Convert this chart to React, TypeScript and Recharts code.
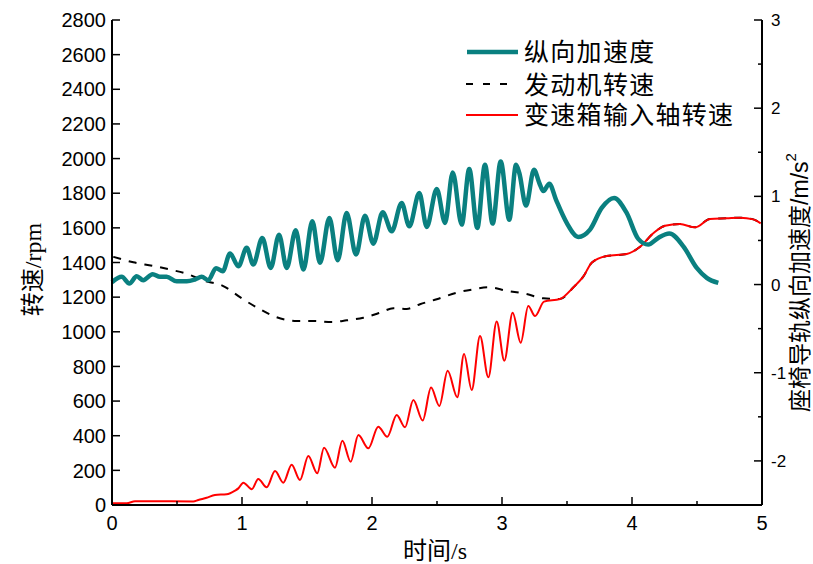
import React from 'react';
import { LineChart, Line, XAxis, YAxis } from 'recharts';

// 纵向加速度 (m/s^2) — right axis
const accT = [0, 0.075, 0.133, 0.19, 0.24, 0.313, 0.369, 0.42, 0.498, 0.575, 0.638, 0.69, 0.741, 0.8, 0.852, 0.908, 0.972, 1.036, 1.087, 1.156, 1.221, 1.285, 1.344, 1.413, 1.472, 1.541, 1.6, 1.672, 1.736, 1.805, 1.877, 1.946, 2.01, 2.082, 2.152, 2.228, 2.287, 2.364, 2.421, 2.498, 2.562, 2.621, 2.69, 2.748, 2.81, 2.869, 2.928, 2.99, 3.056, 3.108, 3.133, 3.185, 3.246, 3.287, 3.318, 3.364, 3.415, 3.498, 3.587, 3.677, 3.767, 3.862, 3.959, 4.048, 4.125, 4.202, 4.287, 4.395, 4.498, 4.575, 4.664];
const accV = [0.026, 0.087, 0.011, 0.094, 0.049, 0.117, 0.087, 0.087, 0.037, 0.037, 0.057, 0.087, 0.049, 0.185, 0.151, 0.351, 0.207, 0.416, 0.226, 0.529, 0.189, 0.566, 0.189, 0.615, 0.17, 0.717, 0.246, 0.755, 0.275, 0.812, 0.34, 0.781, 0.464, 0.819, 0.604, 0.925, 0.66, 1.038, 0.653, 1.084, 0.699, 1.272, 0.68, 1.31, 0.642, 1.359, 0.691, 1.396, 0.736, 1.359, 1.265, 0.895, 1.302, 1.152, 1.06, 1.144, 0.963, 0.699, 0.54, 0.623, 0.869, 0.982, 0.812, 0.518, 0.453, 0.529, 0.578, 0.434, 0.189, 0.076, 0.019];

// 发动机转速 (rpm) — left axis
const engT = [0.01, 0.164, 0.318, 0.459, 0.587, 0.69, 0.856, 0.998, 1.125, 1.267, 1.421, 1.548, 1.69, 1.805, 1.933, 2.062, 2.164, 2.267, 2.369, 2.498, 2.652, 2.779, 2.895, 3.036, 3.19, 3.318, 3.446, 3.548, 3.625, 3.692, 3.805, 3.959, 4.062, 4.164, 4.254, 4.369, 4.485, 4.6, 4.728, 4.831, 4.933, 4.99];
const engV = [1433, 1401, 1380, 1357, 1332, 1299, 1264, 1193, 1136, 1084, 1062, 1062, 1056, 1066, 1081, 1110, 1136, 1132, 1159, 1188, 1226, 1245, 1257, 1237, 1218, 1193, 1189, 1256, 1318, 1400, 1437, 1449, 1491, 1569, 1612, 1622, 1603, 1651, 1655, 1659, 1649, 1626];

// 变速箱输入轴转速 (rpm) — left axis
const gearT = [0, 0.113, 0.177, 0.292, 0.625, 0.664, 0.728, 0.792, 0.882, 0.946, 0.972, 1.01, 1.075, 1.125, 1.19, 1.254, 1.318, 1.382, 1.446, 1.51, 1.579, 1.631, 1.715, 1.772, 1.836, 1.895, 1.972, 2.048, 2.118, 2.19, 2.254, 2.318, 2.39, 2.454, 2.518, 2.582, 2.656, 2.708, 2.767, 2.831, 2.895, 2.959, 3.018, 3.082, 3.144, 3.202, 3.254, 3.323, 3.446, 3.548, 3.625, 3.692, 3.805, 3.959, 4.062, 4.164, 4.254, 4.369, 4.485, 4.6, 4.728, 4.831, 4.933, 4.99];
const gearV = [10, 10, 21, 22, 20, 29, 42, 58, 62, 83, 96, 129, 91, 150, 102, 196, 129, 233, 144, 283, 183, 331, 215, 371, 250, 404, 327, 452, 394, 520, 449, 606, 488, 678, 572, 775, 622, 872, 664, 976, 737, 1060, 833, 1110, 937, 1149, 1091, 1174, 1189, 1256, 1318, 1400, 1437, 1449, 1491, 1569, 1612, 1622, 1603, 1651, 1655, 1659, 1649, 1626];

const xTicks = [0, 0.5, 1, 1.5, 2, 2.5, 3, 3.5, 4, 4.5, 5];
const leftTicks = [0, 200, 400, 600, 800, 1000, 1200, 1400, 1600, 1800, 2000, 2200, 2400, 2600, 2800];
const rightTicks = [-2.5, -2, -1.5, -1, -0.5, 0, 0.5, 1, 1.5, 2, 2.5, 3];

const legendNames = ['纵向加速度', '发动机转速', '变速箱输入轴转速'];
const xLabel = '时间/s';
const leftLabel = '转速/rpm';
const rightLabel = '座椅导轨纵向加速度/m/s';

const zip = (ts: number[], vs: number[]) => ts.map((t, i) => ({ t, v: vs[i] }));
const accData = zip(accT, accV);
const engData = zip(engT, engV);
const gearData = zip(gearT, gearV);

const TEAL = '#0A8080';
const TICK_FONT = 'Arial, "Liberation Sans", sans-serif';
const SERIF = '"Liberation Serif", "Times New Roman", "Noto Sans CJK SC", serif';
const CJK_SANS = 'Arial, "Liberation Sans", "Noto Sans CJK SC", sans-serif';

const BottomTick = (props: any) => {
  const { x, y, payload } = props;
  const v = payload.value;
  const major = Number.isInteger(v);
  return (
    <g>
      <line x1={x} x2={x} y1={y} y2={y - (major ? 8 : 4)} stroke="#000" strokeWidth={1.5} />
      {major && (
        <text x={x} y={y + 25} textAnchor="middle" fontSize={20} fontFamily={TICK_FONT} fill="#000">
          {v}
        </text>
      )}
    </g>
  );
};

const LeftTick = (props: any) => {
  const { x, y, payload } = props;
  return (
    <g>
      <line x1={x} x2={x + 8} y1={y} y2={y} stroke="#000" strokeWidth={1.5} />
      <text x={x - 6} y={y} dy="0.36em" textAnchor="end" fontSize={20} fontFamily={TICK_FONT} fill="#000">
        {payload.value}
      </text>
    </g>
  );
};

const RightTick = (props: any) => {
  const { x, y, payload } = props;
  const v = payload.value;
  const major = Number.isInteger(v);
  return (
    <g>
      <line x1={x} x2={x - (major ? 8 : 4)} y1={y} y2={y} stroke="#000" strokeWidth={1.5} />
      {major && (
        <text x={x + 9} y={y} dy="0.36em" textAnchor="start" fontSize={17} fontFamily={TICK_FONT} fill="#000">
          {v}
        </text>
      )}
    </g>
  );
};

const LeftLabel = (props: any) => {
  const vb = props.viewBox || { x: 52, y: 20, width: 60, height: 485 };
  const cx = vb.x - 19;
  const cy = vb.y + vb.height / 2 + 7;
  return (
    <text
      x={cx}
      y={cy}
      transform={`rotate(-90, ${cx}, ${cy})`}
      textAnchor="middle"
      dominantBaseline="central"
      fontSize={24}
      fontFamily={SERIF}
      fill="#000"
    >
      {leftLabel}
    </text>
  );
};

const RightLabel = (props: any) => {
  const vb = props.viewBox || { x: 762, y: 20, width: 50, height: 485 };
  const cx = vb.x + 38;
  const cy = vb.y + vb.height / 2 + 20;
  return (
    <text
      x={cx}
      y={cy}
      transform={`rotate(-90, ${cx}, ${cy})`}
      textAnchor="middle"
      dominantBaseline="central"
      fontSize={23}
      fontFamily={CJK_SANS}
      fill="#000"
    >
      {rightLabel}
      <tspan dy={-10} fontSize={15}>2</tspan>
    </text>
  );
};

const XLabel = (props: any) => {
  const vb = props.viewBox || { x: 112, y: 505, width: 650, height: 30 };
  const cx = vb.x + vb.width / 2 - 2;
  return (
    <text x={cx} y={vb.y + 54} textAnchor="middle" fontSize={24} fontFamily={SERIF} fill="#000">
      {xLabel}
    </text>
  );
};

const Legend = () => (
  <svg
    width={813}
    height={564}
    style={{ position: 'absolute', left: 0, top: 0, pointerEvents: 'none' }}
  >
    <line x1={467} x2={518} y1={52} y2={52} stroke={TEAL} strokeWidth={4.5} />
    <line x1={466} x2={510} y1={84} y2={84} stroke="#000" strokeWidth={2} strokeDasharray="7 10" />
    <line x1={466} x2={518} y1={115} y2={115} stroke="#FF0000" strokeWidth={2} />
    {legendNames.map((n, i) => (
      <text
        key={n}
        x={524}
        y={[52, 85, 115][i] + 9}
        fontSize={25}
        letterSpacing={1.3}
        fontFamily='"Liberation Sans", "Noto Sans CJK SC", sans-serif'
        fill="#000"
      >
        {n}
      </text>
    ))}
  </svg>
);

export default function App() {
  return (
    <div style={{ position: 'absolute', left: 0, top: 0, width: 813, height: 564, background: '#fff' }}>
      <LineChart width={813} height={564} margin={{ top: 20, right: 1, bottom: 29, left: 52 }}>
        <XAxis
          dataKey="t"
          type="number"
          domain={[0, 5]}
          ticks={xTicks}
          interval={0}
          height={30}
          tickSize={0}
          tickMargin={0}
          tickLine={false}
          axisLine={{ stroke: '#000', strokeWidth: 2 }}
          tick={<BottomTick />}
          label={<XLabel />}
          allowDuplicatedCategory={false}
        />
        <YAxis
          yAxisId="left"
          orientation="left"
          type="number"
          domain={[0, 2800]}
          ticks={leftTicks}
          interval={0}
          width={60}
          tickSize={0}
          tickMargin={0}
          tickLine={false}
          axisLine={{ stroke: '#000', strokeWidth: 2 }}
          tick={<LeftTick />}
          label={<LeftLabel />}
        />
        <YAxis
          yAxisId="right"
          orientation="right"
          type="number"
          domain={[-2.5, 3]}
          ticks={rightTicks}
          interval={0}
          width={50}
          tickSize={0}
          tickMargin={0}
          tickLine={false}
          axisLine={{ stroke: '#000', strokeWidth: 2 }}
          tick={<RightTick />}
          label={<RightLabel />}
        />
        <Line
          yAxisId="left"
          data={engData}
          dataKey="v"
          type="monotone"
          stroke="#000"
          strokeWidth={2}
          strokeDasharray="8 8"
          dot={false}
          isAnimationActive={false}
        />
        <Line
          yAxisId="left"
          data={gearData}
          dataKey="v"
          type="monotone"
          stroke="#FF0000"
          strokeWidth={2}
          dot={false}
          isAnimationActive={false}
        />
        <Line
          yAxisId="right"
          data={accData}
          dataKey="v"
          type="monotone"
          stroke={TEAL}
          strokeWidth={4.5}
          dot={false}
          isAnimationActive={false}
        />
      </LineChart>
      <Legend />
    </div>
  );
}
